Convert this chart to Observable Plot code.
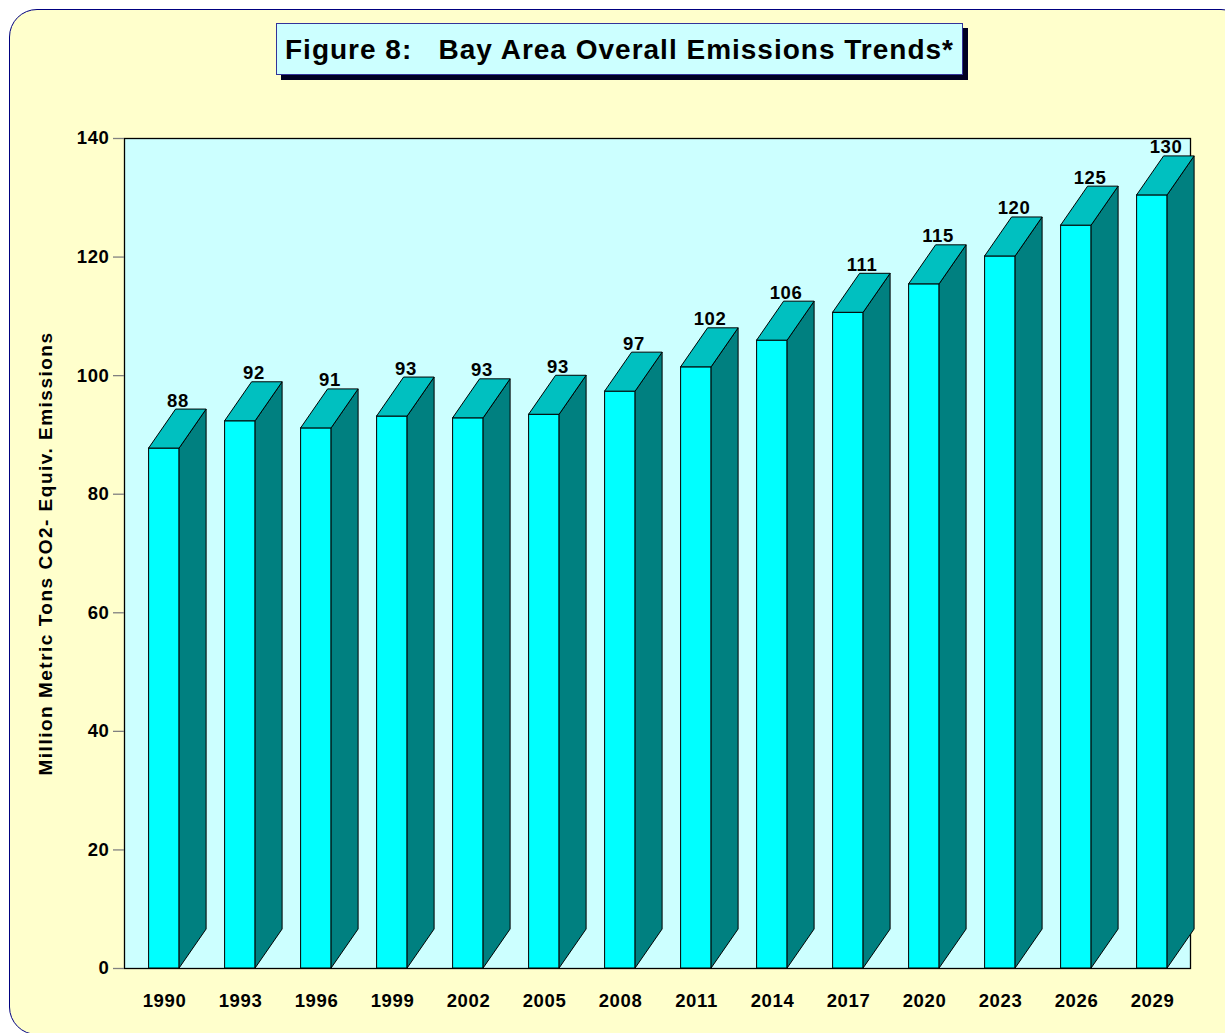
<!DOCTYPE html>
<html>
<head>
<meta charset="utf-8">
<script src="https://cdn.jsdelivr.net/npm/d3@7"></script>
<script src="https://cdn.jsdelivr.net/npm/@observablehq/plot@0.6"></script>
<style>
  html, body { margin: 0; padding: 0; background: #ffffff; }
  body { width: 1225px; height: 1033px; position: relative; overflow: hidden; font-family: Arial, "Liberation Sans", sans-serif; }
  #frame { position: absolute; left: 9px; top: 9px; width: 1240px; height: 1026px; background: #FFFFCC; border: 1.5px solid #000080; border-radius: 28px; box-sizing: border-box; }
  #title { position: absolute; left: 276px; top: 23px; width: 687px; height: 52px; background: #CCFFFF; border: 1px solid #333399; box-sizing: border-box; box-shadow: 5px 5px 0 #000022; font-weight: bold; font-size: 28px; letter-spacing: 1px; color: #000; display: flex; align-items: center; justify-content: center; white-space: pre; padding-top: 1px; }
  #chart { position: absolute; left: 0; top: 0; }
  #chart svg text { letter-spacing: 0.6px; }
</style>
</head>
<body>
<div id="frame"></div>
<div id="chart"></div>
<div id="title">Figure 8:   Bay Area Overall Emissions Trends*</div>
<script>
const years = ["1990","1993","1996","1999","2002","2005","2008","2011","2014","2017","2020","2023","2026","2029"];
const emissions = [87.7, 92.3, 91.1, 93.1, 92.8, 93.4, 97.3, 101.4, 105.9, 110.6, 115.4, 120.1, 125.3, 130.4];
const valueLabels = ["88","92","91","93","93","93","97","102","106","111","115","120","125","130"];
const yTicks = [0, 20, 40, 60, 80, 100, 120, 140];
const yLabel = "Million Metric Tons CO2- Equiv. Emissions";

const data = years.map((y, i) => ({year: y, value: emissions[i], label: valueLabels[i]}));

const INSET_L = 23.6, INSET_R = 21.9, DX = 27, DY = 39;
const font = "Arial, 'Liberation Sans', sans-serif";

const plot = Plot.plot({
  width: 1225, height: 1033,
  marginLeft: 124, marginRight: 35, marginTop: 138, marginBottom: 65,
  style: {background: "transparent", fontFamily: font, color: "#000", overflow: "visible"},
  x: {type: "band", domain: years, padding: 0, label: null},
  y: {domain: [0, 140], label: null},
  marks: [
    Plot.frame({fill: "#CCFFFF", stroke: "#000", strokeWidth: 1.3}),
    Plot.barY(data, {x: "year", y: "value", fill: "#00FFFF", stroke: "#000", strokeWidth: 1, insetLeft: INSET_L, insetRight: INSET_R}),
    Plot.axisY({ticks: yTicks, tickSize: 11, tickPadding: 4, stroke: "#808080", strokeWidth: 1.3, fill: "#000", fontSize: 18.5, fontWeight: "bold", label: null}),
    Plot.axisX({tickSize: 0, tickPadding: 25, fontSize: 18.5, fontWeight: "bold", dx: 1, fill: "#000", label: null}),
    Plot.text(data, {x: "year", y: "value", text: "label", dx: 14.5, dy: -DY - 3, lineAnchor: "bottom", fontSize: 18.5, fontWeight: "bold", fill: "#000"}),
    Plot.text([yLabel], {text: d => d, frameAnchor: "left", textAnchor: "middle", rotate: -90, dx: -79, fontSize: 19, fontWeight: "bold", fill: "#000"})
  ]
});

document.getElementById("chart").appendChild(plot);

// wider tracking for the rotated axis title, as in the reference
d3.select(plot).selectAll("text").filter(function() { return this.textContent === yLabel; })
  .style("letter-spacing", "1.5px");

// 3D side and top faces, positioned through the plot's own scales
const xs = plot.scale("x"), ys = plot.scale("y");
const bw = xs.bandwidth;
const faces = d3.create("svg:g").attr("aria-label", "bar-3d-faces");
for (const d of data) {
  const x0 = xs.apply(d.year) + INSET_L;
  const x1 = xs.apply(d.year) + bw - INSET_R;
  const yt = ys.apply(d.value), yb = ys.apply(0);
  faces.append("polygon")
    .attr("points", [[x1, yb], [x1 + DX, yb - DY], [x1 + DX, yt - DY], [x1, yt]].map(p => p.join(",")).join(" "))
    .attr("fill", "#008080").attr("stroke", "#000").attr("stroke-width", 1).attr("stroke-linejoin", "round");
  faces.append("polygon")
    .attr("points", [[x0, yt], [x0 + DX, yt - DY], [x1 + DX, yt - DY], [x1, yt]].map(p => p.join(",")).join(" "))
    .attr("fill", "#00C0C0").attr("stroke", "#000").attr("stroke-width", 1).attr("stroke-linejoin", "round");
}
const barGroup = plot.querySelector('g[aria-label="bar"]');
barGroup.parentNode.insertBefore(faces.node(), barGroup.nextSibling);
</script>
</body>
</html>
